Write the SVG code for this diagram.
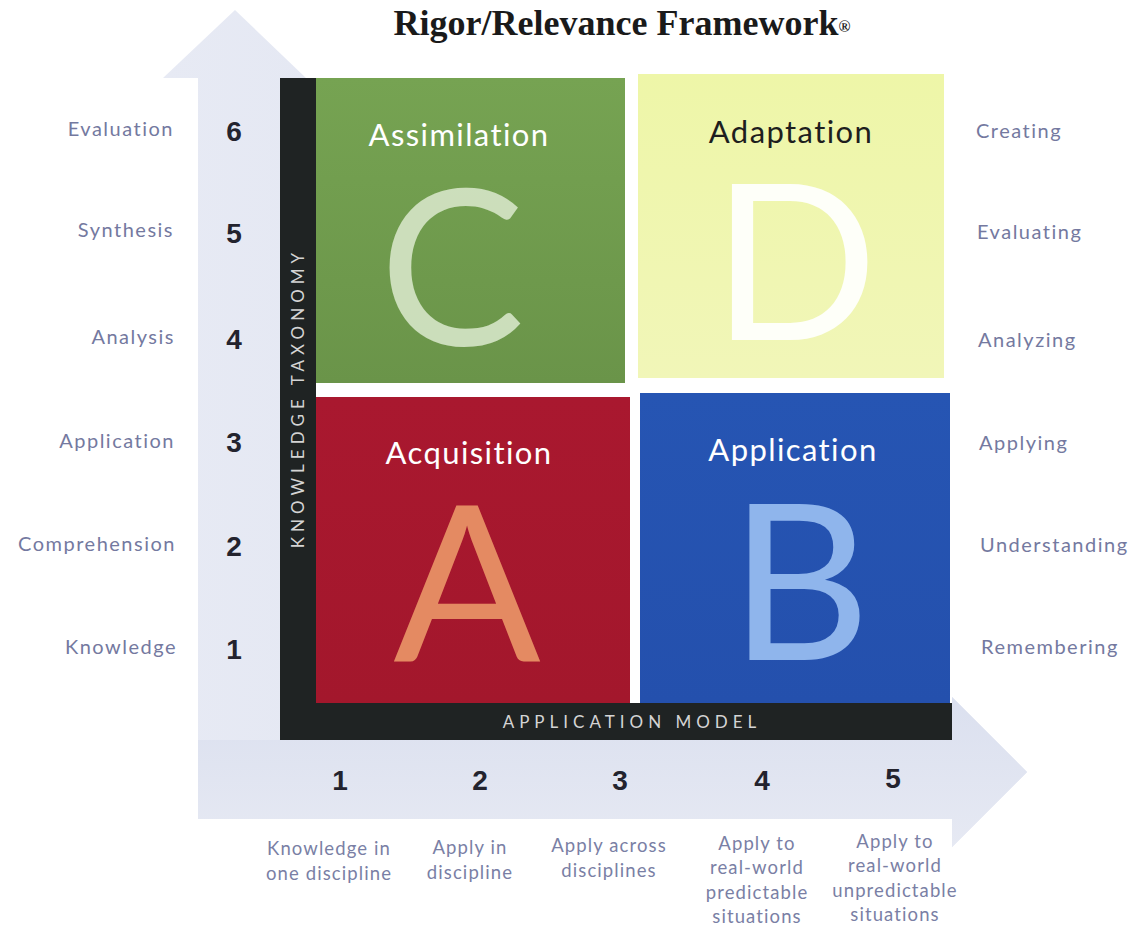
<svg xmlns="http://www.w3.org/2000/svg" width="1140" height="930" viewBox="0 0 1140 930">
  <defs>
    <linearGradient id="arrowV" x1="0" y1="0" x2="1" y2="0">
      <stop offset="0" stop-color="#e7eaf4"/>
      <stop offset="1" stop-color="#dadfef"/>
    </linearGradient>
    <linearGradient id="arrowH" x1="0" y1="0" x2="0" y2="1">
      <stop offset="0" stop-color="#dbe0ef"/>
      <stop offset="1" stop-color="#e6e9f3"/>
    </linearGradient>
    <linearGradient id="gGreen" x1="0" y1="0" x2="0" y2="1">
      <stop offset="0" stop-color="#76a352"/>
      <stop offset="1" stop-color="#6a9449"/>
    </linearGradient>
    <linearGradient id="gYellow" x1="0" y1="0" x2="0" y2="1">
      <stop offset="0" stop-color="#eef6a8"/>
      <stop offset="1" stop-color="#f1f6b8"/>
    </linearGradient>
    <linearGradient id="gRed" x1="0" y1="0" x2="0" y2="1">
      <stop offset="0" stop-color="#a9182f"/>
      <stop offset="1" stop-color="#a3172c"/>
    </linearGradient>
    <linearGradient id="gBlue" x1="0" y1="0" x2="0" y2="1">
      <stop offset="0" stop-color="#2655b3"/>
      <stop offset="1" stop-color="#2450ad"/>
    </linearGradient>
  </defs>
  <style>
    .title { font-family: "Liberation Serif", "Times New Roman", serif; font-weight: bold; font-size: 36px; fill: #1a1a1a; }
    .quad { font-family: Lato, "Open Sans", sans-serif; font-size: 31px; letter-spacing: 1.4px; }
    .big { font-family: Lato, "Open Sans", sans-serif; font-size: 218px; }
    .axis { font-family: Lato, "Open Sans", sans-serif; font-size: 17px; fill: #d4d4d4; letter-spacing: 5px; }
    .num { font-family: "Liberation Sans", Arial, sans-serif; font-weight: bold; font-size: 28px; fill: #23232e; }
    .lvl { font-family: Lato, "Open Sans", sans-serif; font-size: 20px; letter-spacing: 1.5px; fill: #7479a0; }
    .desc { font-family: Lato, "Open Sans", sans-serif; font-size: 18.5px; letter-spacing: 1.1px; fill: #7a7fa5; }
  </style>

  <rect width="1140" height="930" fill="#ffffff"/>

  <text class="title" x="622" y="35" text-anchor="middle">Rigor/Relevance Framework<tspan font-size="16" dy="-3">®</tspan></text>

  <!-- broad background arrows of the two scales -->
  <g id="scale-arrows">
    <path d="M198,820 L198,78 L163,78 L235,10 L306,78 L290,78 L290,730 L952,730 L952,697 L1027,772 L952,847 L952,818 L198,818 Z" fill="url(#arrowV)"/>
    <path d="M198,740 L952,740 L952,697 L1027,772 L952,847 L952,819 L198,819 Z" fill="url(#arrowH)"/>
  </g>

  <!-- dark L-shaped axis bars -->
  <g id="axis-bars">
    <rect x="280" y="78" width="36" height="662" fill="#1f2323"/>
    <rect x="280" y="703" width="672" height="37" fill="#1f2323"/>
    <text class="axis" transform="translate(304,398) rotate(-90)" text-anchor="middle">KNOWLEDGE TAXONOMY</text>
    <text class="axis" x="632" y="728" text-anchor="middle">APPLICATION MODEL</text>
  </g>

  <!-- quadrants -->
  <g id="quad-C">
    <rect x="316" y="78" width="309" height="305" fill="url(#gGreen)"/>
    <text class="quad" x="459" y="146" text-anchor="middle" fill="#ffffff">Assimilation</text>
    <text class="big" x="452" y="345" text-anchor="middle" fill="#d6e6c8" fill-opacity="0.9">C</text>
  </g>
  <g id="quad-D">
    <rect x="638" y="74" width="306" height="304" fill="url(#gYellow)"/>
    <text class="quad" x="791" y="143" text-anchor="middle" fill="#1e1e1e">Adaptation</text>
    <text class="big" x="795" y="340" text-anchor="middle" fill="#ffffff" fill-opacity="0.92">D</text>
  </g>
  <g id="quad-A">
    <rect x="316" y="397" width="314" height="306" fill="url(#gRed)"/>
    <text class="quad" x="469" y="464" text-anchor="middle" fill="#ffffff">Acquisition</text>
    <text class="big" x="467" y="662" text-anchor="middle" fill="#e48a62">A</text>
  </g>
  <g id="quad-B">
    <rect x="640" y="393" width="310" height="310" fill="url(#gBlue)"/>
    <text class="quad" x="793" y="461" text-anchor="middle" fill="#ffffff">Application</text>
    <text class="big" x="800" y="660" text-anchor="middle" fill="#8fb5ec">B</text>
  </g>

  <!-- vertical scale: levels 1-6 -->
  <g id="left-scale">
    <text class="num" x="234" y="141" text-anchor="middle">6</text>
    <text class="num" x="234" y="243" text-anchor="middle">5</text>
    <text class="num" x="234" y="349" text-anchor="middle">4</text>
    <text class="num" x="234" y="452" text-anchor="middle">3</text>
    <text class="num" x="234" y="556" text-anchor="middle">2</text>
    <text class="num" x="234" y="659" text-anchor="middle">1</text>
    <text class="lvl" x="174" y="136" text-anchor="end">Evaluation</text>
    <text class="lvl" x="174" y="237" text-anchor="end">Synthesis</text>
    <text class="lvl" x="175" y="344" text-anchor="end">Analysis</text>
    <text class="lvl" x="175" y="448" text-anchor="end">Application</text>
    <text class="lvl" x="176" y="551" text-anchor="end">Comprehension</text>
    <text class="lvl" x="177" y="654" text-anchor="end">Knowledge</text>
  </g>

  <g id="right-scale">
    <text class="lvl" x="976" y="138">Creating</text>
    <text class="lvl" x="977" y="239">Evaluating</text>
    <text class="lvl" x="978" y="347">Analyzing</text>
    <text class="lvl" x="979" y="450">Applying</text>
    <text class="lvl" x="980" y="552">Understanding</text>
    <text class="lvl" x="981" y="654">Remembering</text>
  </g>

  <!-- horizontal scale: levels 1-5 -->
  <g id="bottom-scale">
    <text class="num" x="340" y="790" text-anchor="middle">1</text>
    <text class="num" x="480" y="790" text-anchor="middle">2</text>
    <text class="num" x="620" y="790" text-anchor="middle">3</text>
    <text class="num" x="762" y="790" text-anchor="middle">4</text>
    <text class="num" x="893" y="788" text-anchor="middle">5</text>
    <text class="desc" text-anchor="middle"><tspan x="329" y="855">Knowledge in</tspan><tspan x="329" y="880">one discipline</tspan></text>
    <text class="desc" text-anchor="middle"><tspan x="470" y="854">Apply in</tspan><tspan x="470" y="879">discipline</tspan></text>
    <text class="desc" text-anchor="middle"><tspan x="609" y="852">Apply across</tspan><tspan x="609" y="877">disciplines</tspan></text>
    <text class="desc" text-anchor="middle"><tspan x="757" y="850">Apply to</tspan><tspan x="757" y="874">real-world</tspan><tspan x="757" y="899">predictable</tspan><tspan x="757" y="923">situations</tspan></text>
    <text class="desc" text-anchor="middle"><tspan x="895" y="848">Apply to</tspan><tspan x="895" y="872">real-world</tspan><tspan x="895" y="897">unpredictable</tspan><tspan x="895" y="921">situations</tspan></text>
  </g>
</svg>
